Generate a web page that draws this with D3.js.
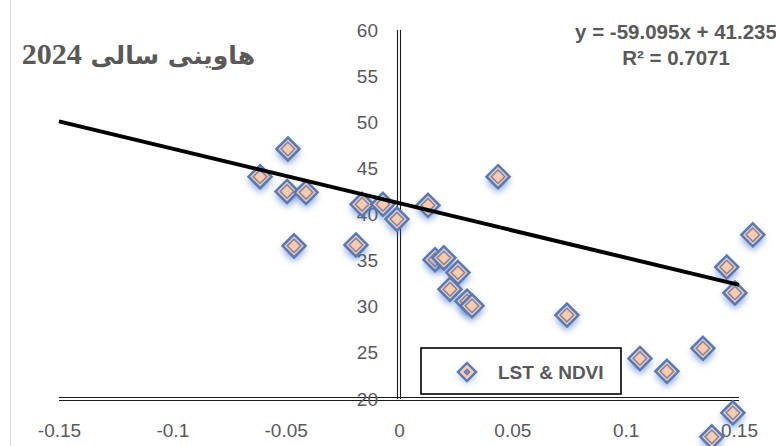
<!DOCTYPE html>
<html>
<head>
<meta charset="utf-8">
<script src="https://cdn.jsdelivr.net/npm/d3@7"></script>
<style>
  body { margin: 0; background: #fff; }
  #chart svg { display: block; }
</style>
</head>
<body>
<div id="chart"></div>
<script>
// NDVI (x) and LST (y) values
const ndvi = [-0.0613, -0.049, -0.0494, -0.041, -0.0463, -0.019, -0.0163, -0.0071, -0.0009, 0.0128,
  0.0437, 0.0159, 0.0198, 0.026, 0.0225, 0.03, 0.0322, 0.0741, 0.1063, 0.1182,
  0.1341, 0.1446, 0.1482, 0.1561, 0.1473, 0.138];
const lst = [44.1, 47.1, 42.5, 42.4, 36.6, 36.7, 41.1, 41.1, 39.5, 41.0,
  44.1, 35.1, 35.3, 33.7, 31.9, 30.6, 30.1, 29.1, 24.4, 23.0,
  25.5, 34.3, 31.5, 37.8, 18.5, 15.9];
const xTicks = [-0.15, -0.1, -0.05, 0, 0.05, 0.1, 0.15];
const yTicks = [20, 25, 30, 35, 40, 45, 50, 55, 60];
const slope = -59.095;
const intercept = 41.235;
const titleWords = "هاوینی سالی ";
const titleYear = "2024";
const eqLines = ["y = -59.095x + 41.235", "R² = 0.7071"];
const legendLabel = "LST & NDVI";

const W = 776, H = 446;
const points = ndvi.map((x, i) => ({ x: x, y: lst[i] }));

const svg = d3.select("#chart").append("svg").attr("width", W).attr("height", H);

const defs = svg.append("defs");
defs.append("filter").attr("id", "blur").attr("x", "-100%").attr("y", "-100%").attr("width", "300%").attr("height", "300%")
  .append("feGaussianBlur").attr("stdDeviation", 3.5);

// chart area edge
svg.append("line").attr("x1", 10.5).attr("x2", 10.5).attr("y1", 0).attr("y2", H)
  .attr("stroke", "#d9d9d9").attr("stroke-width", 1);

const x = d3.scaleLinear().domain([-0.15, 0.15]).range([59, 739]);
const y = d3.scaleLinear().domain([20, 60]).range([399, 30]);

const fmt = (d) => String(+d.toFixed(2));

// double axis lines
const axisColor = "#1a1a1a";
[-1.5, 1.5].forEach((o) => {
  svg.append("line").attr("x1", x(-0.15)).attr("x2", x(0.15)).attr("y1", y(20) + o).attr("y2", y(20) + o)
    .attr("stroke", axisColor).attr("stroke-width", 1.1);
  svg.append("line").attr("x1", x(0) + o).attr("x2", x(0) + o).attr("y1", y(60)).attr("y2", y(20))
    .attr("stroke", axisColor).attr("stroke-width", 1.1);
});

// tick labels
const xAxis = svg.append("g").attr("transform", `translate(0,${y(20)})`)
  .call(d3.axisBottom(x).tickValues(xTicks).tickFormat(fmt).tickSize(0).tickPadding(25));
const yAxis = svg.append("g").attr("transform", `translate(${x(0)},0)`)
  .call(d3.axisLeft(y).tickValues(yTicks).tickFormat(fmt).tickSize(0).tickPadding(21));
[xAxis, yAxis].forEach((g) => {
  g.select(".domain").remove();
  g.selectAll("text").attr("fill", "#595959").style("font-family", "Liberation Sans, Arial, sans-serif").style("font-size", "19px");
});

// markers
const diamond = (r) => `M0,${-r}L${r},0L0,${r}L${-r},0Z`;
const marks = svg.append("g").selectAll("g").data(points).enter().append("g")
  .attr("transform", (d) => `translate(${x(d.x)},${y(d.y)})`);
marks.append("path").attr("d", diamond(12)).attr("transform", "translate(0,4)")
  .attr("fill", "#4472C4").attr("opacity", 0.65).attr("filter", "url(#blur)");
marks.append("path").attr("d", diamond(11.5)).attr("fill", "#F8CBAD")
  .attr("stroke", "#5679BA").attr("stroke-width", 2.5);
marks.append("path").attr("d", diamond(6.8)).attr("fill", "#F8CBAD")
  .attr("stroke", "#8088AA").attr("stroke-width", 1.6);

// trendline
svg.append("line")
  .attr("x1", x(-0.15)).attr("y1", y(slope * -0.15 + intercept))
  .attr("x2", x(0.15)).attr("y2", y(slope * 0.15 + intercept))
  .attr("stroke", "#000").attr("stroke-width", 4);

// title (right-to-left, year on the left)
const title = svg.append("text").attr("x", 255).attr("y", 64).attr("text-anchor", "start").attr("direction", "rtl")
  .attr("fill", "#595959").style("font-weight", "bold");
title.append("tspan").style("font-family", "DejaVu Sans, sans-serif").style("font-size", "25px").text(titleWords);
title.append("tspan").style("font-family", "Liberation Serif, serif").style("font-size", "30px").text(titleYear);

// equation
svg.append("g").selectAll("text").data(eqLines).enter().append("text")
  .attr("x", 676).attr("y", (d, i) => 39 + i * 26).attr("text-anchor", "middle")
  .attr("fill", "#595959").style("font-family", "Liberation Sans, Arial, sans-serif")
  .style("font-weight", "bold").style("font-size", "20.5px").text((d) => d);

// legend
const lg = svg.append("g").attr("transform", "translate(421,348)");
lg.append("rect").attr("width", 200).attr("height", 46).attr("fill", "#fff")
  .attr("stroke", "#000").attr("stroke-width", 1.6);
lg.append("path").attr("d", diamond(9.5)).attr("transform", "translate(46,27)")
  .attr("fill", "#4472C4").attr("opacity", 0.45).attr("filter", "url(#blur)");
lg.append("path").attr("d", diamond(9)).attr("transform", "translate(46,24)")
  .attr("fill", "#F8CBAD").attr("stroke", "#5679BA").attr("stroke-width", 2.4);
lg.append("path").attr("d", diamond(3.2)).attr("transform", "translate(46,24)")
  .attr("fill", "#8088AA").attr("stroke", "#5679BA").attr("stroke-width", 1);
lg.append("text").attr("x", 77).attr("y", 31).attr("fill", "#595959")
  .style("font-family", "Liberation Sans, Arial, sans-serif").style("font-weight", "bold")
  .style("font-size", "19px").text(legendLabel);
</script>
</body>
</html>
